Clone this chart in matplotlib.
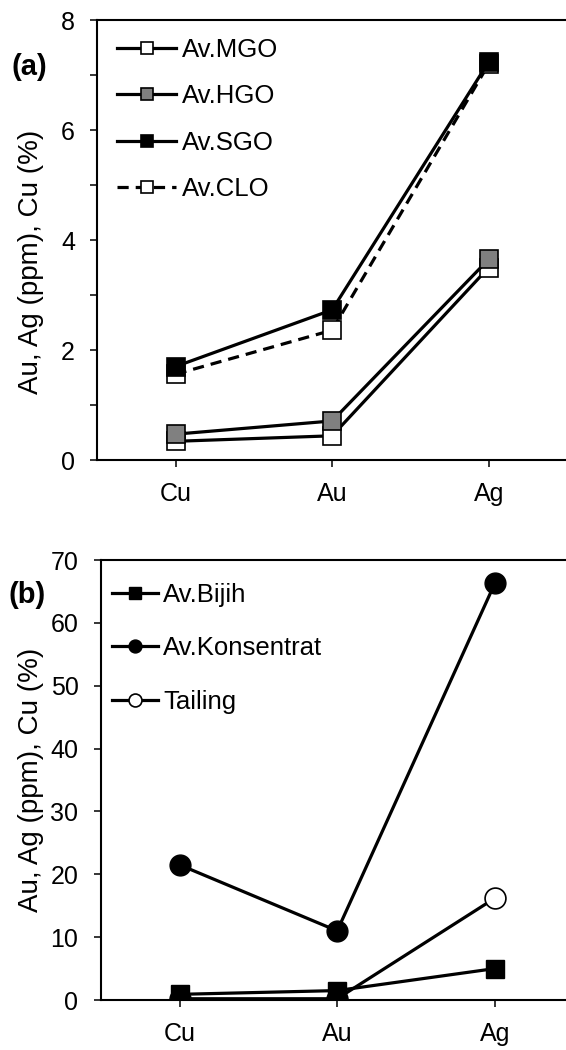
import matplotlib
matplotlib.use('Agg')
import matplotlib.pyplot as plt
from matplotlib.ticker import MultipleLocator

plt.rcParams['font.family'] = ['Liberation Sans', 'DejaVu Sans']
plt.rcParams['font.size'] = 18

# data
elements = ['Cu', 'Au', 'Ag']

mgo = [0.34, 0.44, 3.50]
hgo = [0.47, 0.71, 3.65]
sgo = [1.70, 2.73, 7.24]
clo = [1.56, 2.36, 7.20]

bijih = [0.9, 1.5, 5.0]
konsentrat = [21.5, 11.0, 66.3]
tailing = [0.2, 0.2, 16.2]

W, H = 566, 1050
fig = plt.figure(figsize=(W / 100, H / 100), dpi=100)

ax1 = fig.add_axes([97.3 / W, 1 - 460 / H, 469.7 / W, 440 / H])
ax2 = fig.add_axes([100.7 / W, 1 - 1000 / H, 473.0 / W, 440 / H])

x = list(range(len(elements)))
lw = 2.3
ms_sq = 13.5
ms_ci = 15

# panel (a)
ax1.plot(x, mgo, '-', color='black', lw=lw, marker='s', ms=ms_sq, mfc='white', mec='black', mew=1.2, label='Av.MGO', zorder=2)
ax1.plot(x, hgo, '-', color='black', lw=lw, marker='s', ms=ms_sq, mfc='#808080', mec='black', mew=1.2, label='Av.HGO', zorder=3)
ax1.plot(x, sgo, '-', color='black', lw=lw, marker='s', ms=ms_sq, mfc='black', mec='black', mew=1.2, label='Av.SGO', zorder=5)
ax1.plot(x, clo, color='black', lw=lw, ls=(0, (3.5, 2.2)), marker='s', ms=ms_sq, mfc='white', mec='black', mew=1.2, label='Av.CLO', zorder=4)

ax1.set_xlim(-0.5, 2.5)
ax1.set_ylim(0, 8)
ax1.yaxis.set_major_locator(MultipleLocator(2))
ax1.yaxis.set_minor_locator(MultipleLocator(1))

ax1.legend(loc='upper left', bbox_to_anchor=(117 / W, 1 - 38 / H), bbox_transform=fig.transFigure,
           frameon=False, borderpad=0, borderaxespad=0, handlelength=2.3, handletextpad=0.23,
           labelspacing=0.87, markerscale=0.65, fontsize=18.5)

# panel (b)
ax2.plot(x, tailing, '-', color='black', lw=lw, marker='o', ms=ms_ci, mfc='white', mec='black', mew=1.2, label='Tailing', zorder=2)
ax2.plot(x, bijih, '-', color='black', lw=lw, marker='s', ms=ms_sq, mfc='black', mec='black', label='Av.Bijih', zorder=4)
ax2.plot(x, konsentrat, '-', color='black', lw=lw, marker='o', ms=ms_ci, mfc='black', mec='black', label='Av.Konsentrat', zorder=3)

ax2.set_xlim(-0.5, 2.5)
ax2.set_ylim(0, 70)
ax2.yaxis.set_major_locator(MultipleLocator(10))

h, l = ax2.get_legend_handles_labels()
order = [1, 2, 0]
ax2.legend([h[i] for i in order], [l[i] for i in order], loc='upper left',
           bbox_to_anchor=(112 / W, 1 - 583 / H), bbox_transform=fig.transFigure,
           frameon=False, borderpad=0, borderaxespad=0, handlelength=1.8, handletextpad=0.2,
           labelspacing=1.14, markerscale=0.62, fontsize=18.5)

for ax, lx, ly in [(ax1, (44 - 97.3) / 469.7, 0.45), (ax2, (44 - 100.7) / 473.0, 0.5)]:
    ax.set_xticks(x)
    ax.set_xticklabels(elements)
    ax.set_ylabel('Au, Ag (ppm), Cu (%)', fontsize=20)
    ax.yaxis.set_label_coords(lx, ly)
    for s in ax.spines.values():
        s.set_linewidth(1.5)
    ax.spines['right'].set_visible(False)
    ax.tick_params(which='both', direction='out', length=5, width=1.1, pad=11, labelsize=18)
    ax.tick_params(axis='x', which='minor', bottom=False)

fig.text(29 / W, 1 - 67 / H, '(a)', ha='center', va='center', fontsize=21, fontweight='bold')
fig.text(27 / W, 1 - 595 / H, '(b)', ha='center', va='center', fontsize=21, fontweight='bold')

fig.savefig('out.png', dpi=100)
